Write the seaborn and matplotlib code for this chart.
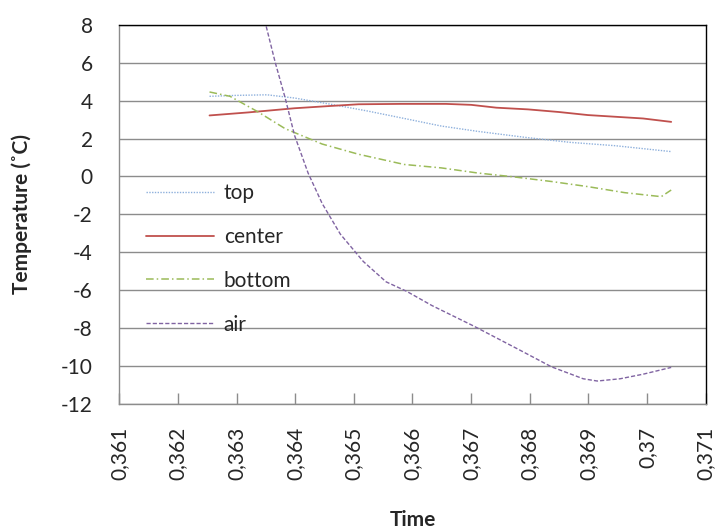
import matplotlib
matplotlib.use("Agg")
import matplotlib.pyplot as plt
from matplotlib.ticker import FixedLocator, FuncFormatter
import seaborn as sns
import pandas as pd

# Temperature series (time, degC)
top_t = [0.36254, 0.36300, 0.36352, 0.36399, 0.36461, 0.36524, 0.36586, 0.36649,
         0.36711, 0.36790, 0.36868, 0.36946, 0.37041]
top_v = [4.23, 4.28, 4.31, 4.14, 3.81, 3.45, 3.06, 2.66, 2.38, 2.07, 1.80, 1.62, 1.31]

center_t = [0.36254, 0.36320, 0.36399, 0.36460, 0.36508, 0.36580, 0.36657, 0.36700,
            0.36743, 0.36797, 0.36850, 0.36899, 0.36993, 0.37041]
center_v = [3.22, 3.38, 3.60, 3.72, 3.81, 3.83, 3.83, 3.78, 3.63, 3.54, 3.40, 3.24, 3.06, 2.88]

bottom_t = [0.36254, 0.36289, 0.36336, 0.36383, 0.36446, 0.36508, 0.36586, 0.36649,
            0.36711, 0.36774, 0.36837, 0.36899, 0.36962, 0.37024, 0.37041]
bottom_v = [4.46, 4.23, 3.42, 2.52, 1.71, 1.17, 0.63, 0.45, 0.18, -0.03, -0.27, -0.54,
            -0.86, -1.07, -0.72]

air_t = [0.36340, 0.36350, 0.36366, 0.36383, 0.36399, 0.36422, 0.36446, 0.36477,
         0.36516, 0.36555, 0.36590, 0.36633, 0.36704, 0.36782, 0.36837, 0.36891,
         0.36915, 0.36954, 0.36993, 0.37041]
air_v = [9.20, 8.00, 6.02, 4.14, 2.16, 0.18, -1.43, -3.05, -4.49, -5.57, -6.07, -6.82,
         -7.90, -9.16, -10.06, -10.69, -10.81, -10.69, -10.45, -10.09]

x_ticks = [0.361, 0.362, 0.363, 0.364, 0.365, 0.366, 0.367, 0.368, 0.369, 0.370, 0.371]
y_ticks = [8, 6, 4, 2, 0, -2, -4, -6, -8, -10, -12]

sns.set_theme(style="white")
plt.rcParams["font.family"] = ["Lato", "DejaVu Sans"]

fig = plt.figure(figsize=(7.18, 5.31), dpi=100)
ax = fig.add_axes([0.166, 0.240, 0.817, 0.713])

series = [
    ("top", top_t, top_v, "#8EB0DC", (0, (1, 1)), 1.0),
    ("center", center_t, center_v, "#C0504D", "-", 1.3),
    ("bottom", bottom_t, bottom_v, "#9BBB59", (0, (5, 2, 1, 2)), 1.1),
    ("air", air_t, air_v, "#8064A2", (0, (3, 1.5)), 1.0),
]
for name, t, v, color, ls, lw in series:
    df = pd.DataFrame({"Time": t, "Temperature": v})
    sns.lineplot(data=df, x="Time", y="Temperature", ax=ax, color=color,
                 linestyle=ls, linewidth=lw, label=name, sort=False)

ax.set_xlim(0.361, 0.371)
ax.set_ylim(-12, 8)
ax.yaxis.set_major_locator(FixedLocator(y_ticks))
ax.xaxis.set_major_locator(FixedLocator(x_ticks))

def comma_fmt(val, pos):
    s = f"{val:.3f}".rstrip("0").rstrip(".")
    return s.replace(".", ",")

ax.xaxis.set_major_formatter(FuncFormatter(comma_fmt))
ax.yaxis.set_major_formatter(FuncFormatter(lambda v, p: f"{int(round(v))}"))

ax.grid(axis="y", color="#8C8C8C", linewidth=1.0)
ax.grid(axis="x", visible=False)
ax.set_axisbelow(True)

for side in ("left", "bottom"):
    ax.spines[side].set_color("#8C8C8C")
    ax.spines[side].set_linewidth(1.0)
for side in ("top", "right"):
    ax.spines[side].set_color("#000000")
    ax.spines[side].set_linewidth(1.0)

ax.tick_params(axis="x", direction="in", length=8, width=1, color="#8C8C8C",
               labelsize=15, labelrotation=90, pad=17, bottom=True)
ax.tick_params(axis="y", length=0, labelsize=15, pad=19, left=False)

ax.set_xlabel("Time", fontsize=15, fontweight="bold")
ax.set_ylabel("Temperature (˚C)", fontsize=15, fontweight="bold")
ax.xaxis.set_label_coords(0.5, -0.282)
ax.yaxis.set_label_coords(-0.148, 0.5)

leg = ax.legend(loc="upper left", bbox_to_anchor=(0.031, 0.605), frameon=False,
                fontsize=15, handlelength=3.3, handletextpad=0.45,
                labelspacing=1.15, borderaxespad=0)

fig.savefig("out.png", dpi=100)
